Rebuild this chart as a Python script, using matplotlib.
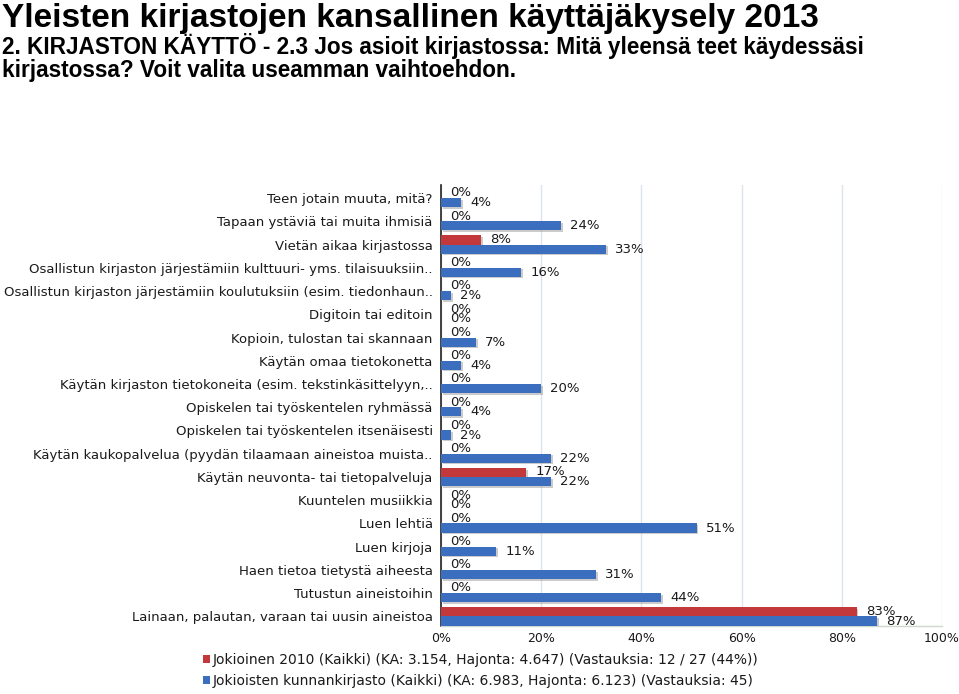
import matplotlib
matplotlib.use('Agg')
import matplotlib.pyplot as plt
import numpy as np
from matplotlib.patches import Patch
from matplotlib import patheffects as pe

title = "Yleisten kirjastojen kansallinen käyttäjäkysely 2013"
subtitle = ("2. KIRJASTON KÄYTTÖ - 2.3 Jos asioit kirjastossa: Mitä yleensä teet käydessäsi\n"
            "kirjastossa? Voit valita useamman vaihtoehdon.")

categories = [
    "Teen jotain muuta, mitä?",
    "Tapaan ystäviä tai muita ihmisiä",
    "Vietän aikaa kirjastossa",
    "Osallistun kirjaston järjestämiin kulttuuri- yms. tilaisuuksiin..",
    "Osallistun kirjaston järjestämiin koulutuksiin (esim. tiedonhaun..",
    "Digitoin tai editoin",
    "Kopioin, tulostan tai skannaan",
    "Käytän omaa tietokonetta",
    "Käytän kirjaston tietokoneita (esim. tekstinkäsittelyyn,..",
    "Opiskelen tai työskentelen ryhmässä",
    "Opiskelen tai työskentelen itsenäisesti",
    "Käytän kaukopalvelua (pyydän tilaamaan aineistoa muista..",
    "Käytän neuvonta- tai tietopalveluja",
    "Kuuntelen musiikkia",
    "Luen lehtiä",
    "Luen kirjoja",
    "Haen tietoa tietystä aiheesta",
    "Tutustun aineistoihin",
    "Lainaan, palautan, varaan tai uusin aineistoa",
]
jokioinen_2010 = [0, 0, 8, 0, 0, 0, 0, 0, 0, 0, 0, 0, 17, 0, 0, 0, 0, 0, 83]
kunnankirjasto = [4, 24, 33, 16, 2, 0, 7, 4, 20, 4, 2, 22, 22, 0, 51, 11, 31, 44, 87]
series_names = [
    "Jokioinen 2010 (Kaikki) (KA: 3.154, Hajonta: 4.647) (Vastauksia: 12 / 27 (44%))",
    "Jokioisten kunnankirjasto (Kaikki) (KA: 6.983, Hajonta: 6.123) (Vastauksia: 45)",
]
xticks = [0, 20, 40, 60, 80, 100]

RED = "#C3383B"
BLUE = "#3B6EBF"
TXT = "#1a1a1a"
FONT = "DejaVu Sans"
FS = 9.5

W, H = 959, 694
fig = plt.figure(figsize=(W / 100, H / 100), dpi=100)
fig.patch.set_facecolor("white")

ax = fig.add_axes([441 / W, 1 - 626 / H, (942 - 441) / W, (626 - 185) / H])
y = np.arange(len(categories))
h = 0.39
shadow = [pe.SimplePatchShadow(offset=(1.2, -1.2), shadow_rgbFace="#999999", alpha=0.5), pe.Normal()]
b1 = ax.barh(y - h / 2, jokioinen_2010, height=h, color=RED, zorder=3)
b2 = ax.barh(y + h / 2, kunnankirjasto, height=h, color=BLUE, zorder=3)
for b in list(b1) + list(b2):
    b.set_path_effects(shadow)

for yy, v in zip(y - h / 2, jokioinen_2010):
    ax.annotate(f"{v}%", xy=(v, yy), xytext=(6.5, 0.5), textcoords="offset points",
                ha="left", va="center", fontsize=FS, family=FONT, color=TXT, zorder=4)
for yy, v in zip(y + h / 2, kunnankirjasto):
    ax.annotate(f"{v}%", xy=(v, yy), xytext=(6.5, 0), textcoords="offset points",
                ha="left", va="center", fontsize=FS, family=FONT, color=TXT, zorder=4)

ax.set_xlim(0, 100)
ax.set_ylim(18.41, -0.56)
ax.set_xticks(xticks)
ax.set_xticklabels([f"{t}%" for t in xticks], fontsize=9.0, family=FONT, color=TXT)
ax.set_yticks(y)
ax.set_yticklabels(categories, fontsize=FS, family=FONT, color=TXT)
ax.tick_params(axis="y", length=0, pad=6)
ax.tick_params(axis="x", length=0, pad=4)
ax.xaxis.grid(True, color="#dde3ea", linewidth=1.0, zorder=0)
ax.set_axisbelow(True)
for s in ["top", "right"]:
    ax.spines[s].set_visible(False)
ax.spines["left"].set_color("#222222")
ax.spines["left"].set_linewidth(1.2)
ax.spines["bottom"].set_color("#cfd8cf")
ax.spines["bottom"].set_linewidth(1.0)

fig.text(2 / W, 1 - 3 / H, title, ha="left", va="top", fontsize=24, fontweight="bold",
         family=["Liberation Sans Narrow", "Liberation Sans"], color="#000000")
fig.text(2 / W, 1 - 33 / H, subtitle, ha="left", va="top", fontsize=16.3, fontweight="bold",
         family=["Liberation Sans Narrow", "Liberation Sans"], color="#000000", linespacing=1.0)

handles = [Patch(facecolor=RED, edgecolor="none"), Patch(facecolor=BLUE, edgecolor="none")]
leg = fig.legend(handles, series_names, loc="upper left", bbox_to_anchor=(203 / W, 1 - 653 / H),
                 frameon=False, prop={"family": FONT, "size": 10.0}, handlelength=0.5,
                 handleheight=0.5, handletextpad=0.2, labelspacing=0.5, borderpad=0, borderaxespad=0)
for t in leg.get_texts():
    t.set_color(TXT)

fig.savefig("out.png", dpi=100, facecolor="white")
